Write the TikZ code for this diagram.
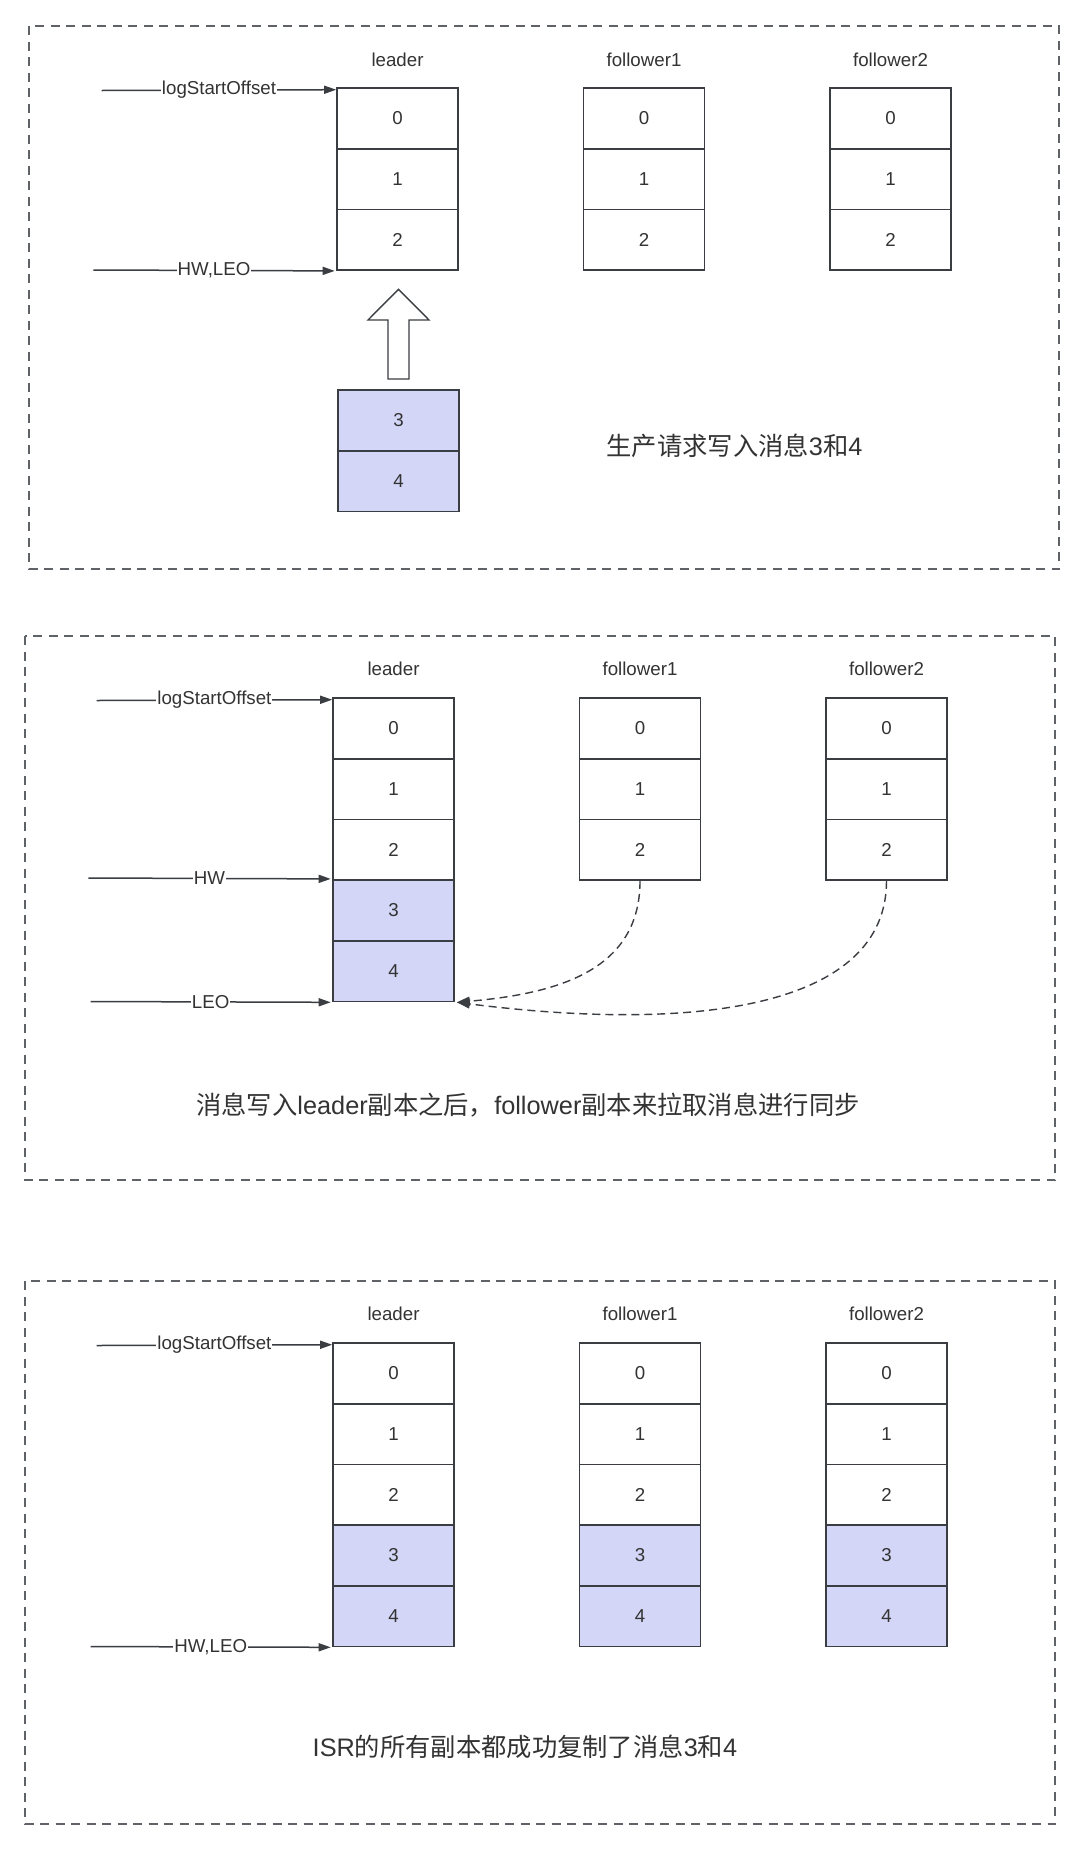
\documentclass[tikz,border=0pt]{standalone}
\usepackage{fontspec}
\setmainfont{Liberation Sans}
\newfontfamily\cjk{Noto Sans CJK SC}
\usetikzlibrary{arrows.meta}

\definecolor{boxline}{HTML}{3A3D42}
\definecolor{panelline}{HTML}{5F6368}
\definecolor{msgfill}{HTML}{D3D6F6}
\definecolor{txt}{HTML}{333333}

\begin{document}
\begin{tikzpicture}[x=1pt,y=-1pt,
    cell/.style={draw=boxline, line width=1.6pt, minimum width=121pt, minimum height=60.7pt,
      inner sep=0pt, text=txt, font=\fontsize{18.7}{22}\selectfont},
    newcell/.style={cell, fill=msgfill},
    panel/.style={draw=panelline, line width=2pt, dash pattern=on 9pt off 6.5pt},
    title/.style={text=txt, font=\fontsize{18.7}{22}\selectfont},
    caption/.style={text=txt, font=\fontsize{25.3}{30}\selectfont},
    tag/.style={fill=white, inner sep=1pt, text=txt, font=\fontsize{18.7}{22}\selectfont},
    pointer/.style={draw=boxline, line width=1.5pt, -{Triangle[length=12pt,width=8pt]}},
    fetch/.style={draw=boxline, line width=1.4pt, dash pattern=on 8pt off 5pt,
      -{Triangle[length=13pt,width=9pt]}}
    ]
\fill[white] (0,0) rectangle (1084,1850);
\useasboundingbox (0,0) rectangle (1084,1850);

% produce request
\begin{scope}[shift={(29,26)}]
\draw[panel] (0,0) rectangle (1030,543);
\node[title] (tla) at (368.5,34) {leader};
\node[title] (tfa) at (615,34) {follower1};
\node[title] (tga) at (861.5,34) {follower2};

\node[cell] (la0) at (368.5,92.35) {0};
\node[cell] (la1) at (368.5,153.05) {1};
\node[cell] (la2) at (368.5,213.75) {2};
\node[cell] (fa0) at (615,92.35) {0};
\node[cell] (fa1) at (615,153.05) {1};
\node[cell] (fa2) at (615,213.75) {2};
\node[cell] (ga0) at (861.5,92.35) {0};
\node[cell] (ga1) at (861.5,153.05) {1};
\node[cell] (ga2) at (861.5,213.75) {2};

\node[newcell] (na3) at (369.5,394.35) {3};
\node[newcell] (na4) at (369.5,455.05) {4};
\draw[draw=boxline, line width=1.4pt, fill=white] (359,353) -- (359,294) -- (339,294)
  -- (369.5,263.3) -- (400,294) -- (380,294) -- (380,353) -- cycle;

\coordinate (sa) at (72.7,64.5);
\coordinate (ha) at (64.3,244);
\draw[pointer] (sa) -- ([yshift=-2.5pt]la0.north west) node[tag, midway] {logStartOffset};
\draw[pointer] (ha) -- ([xshift=-1.5pt]la2.south west) node[tag, midway] {HW,LEO};

\node[caption] (capa) at (705.5,420) {{\cjk 生产请求写入消息}3{\cjk 和}4};
\end{scope}

% followers fetch
\begin{scope}[shift={(25,636)}]
\draw[panel] (0,0) rectangle (1030,544);
\node[title] (tlb) at (368.5,33) {leader};
\node[title] (tfb) at (615,33) {follower1};
\node[title] (tgb) at (861.5,33) {follower2};

\node[cell] (lb0) at (368.5,92.35) {0};
\node[cell] (lb1) at (368.5,153.05) {1};
\node[cell] (lb2) at (368.5,213.75) {2};
\node[newcell] (lb3) at (368.5,274.45) {3};
\node[newcell] (lb4) at (368.5,335.15) {4};
\node[cell] (fb0) at (615,92.35) {0};
\node[cell] (fb1) at (615,153.05) {1};
\node[cell] (fb2) at (615,213.75) {2};
\node[cell] (gb0) at (861.5,92.35) {0};
\node[cell] (gb1) at (861.5,153.05) {1};
\node[cell] (gb2) at (861.5,213.75) {2};

\coordinate (sb) at (71.6,64.5);
\coordinate (hb) at (63.4,242);
\coordinate (eb) at (65.7,365.5);
\draw[pointer] (sb) -- ([yshift=-2.5pt]lb0.north west) node[tag, midway] {logStartOffset};
\draw[pointer] (hb) -- ([xshift=-1.5pt,yshift=2pt]lb2.south west) node[tag, midway] {HW};
\draw[pointer] (eb) -- ([xshift=-1.5pt]lb4.south west) node[tag, midway] {LEO};

\draw[fetch] (fb2.south) .. controls +(0,88) and +(104,-9) .. ([xshift=2pt]lb4.south east);
\draw[fetch] (gb2.south) .. controls +(0,125) and +(244,31) .. ([xshift=2pt]lb4.south east);

\node[caption] (capb) at (503,469) {{\cjk 消息写入}leader{\cjk 副本之后，}follower{\cjk 副本来拉取消息进行同步}};
\end{scope}

% all replicas in sync
\begin{scope}[shift={(25,1281)}]
\draw[panel] (0,0) rectangle (1030,543);
\node[title] (tlc) at (368.5,33) {leader};
\node[title] (tfc) at (615,33) {follower1};
\node[title] (tgc) at (861.5,33) {follower2};

\node[cell] (lc0) at (368.5,92.35) {0};
\node[cell] (lc1) at (368.5,153.05) {1};
\node[cell] (lc2) at (368.5,213.75) {2};
\node[newcell] (lc3) at (368.5,274.45) {3};
\node[newcell] (lc4) at (368.5,335.15) {4};
\node[cell] (fc0) at (615,92.35) {0};
\node[cell] (fc1) at (615,153.05) {1};
\node[cell] (fc2) at (615,213.75) {2};
\node[newcell] (fc3) at (615,274.45) {3};
\node[newcell] (fc4) at (615,335.15) {4};
\node[cell] (gc0) at (861.5,92.35) {0};
\node[cell] (gc1) at (861.5,153.05) {1};
\node[cell] (gc2) at (861.5,213.75) {2};
\node[newcell] (gc3) at (861.5,274.45) {3};
\node[newcell] (gc4) at (861.5,335.15) {4};

\coordinate (sc) at (71.6,64.5);
\coordinate (hc) at (65.7,365.5);
\draw[pointer] (sc) -- ([yshift=-2.5pt]lc0.north west) node[tag, midway] {logStartOffset};
\draw[pointer] (hc) -- ([xshift=-1.5pt]lc4.south west) node[tag, midway] {HW,LEO};

\node[caption] (capc) at (500,466) {ISR{\cjk 的所有副本都成功复制了消息}3{\cjk 和}4};
\end{scope}
\end{tikzpicture}
\end{document}
